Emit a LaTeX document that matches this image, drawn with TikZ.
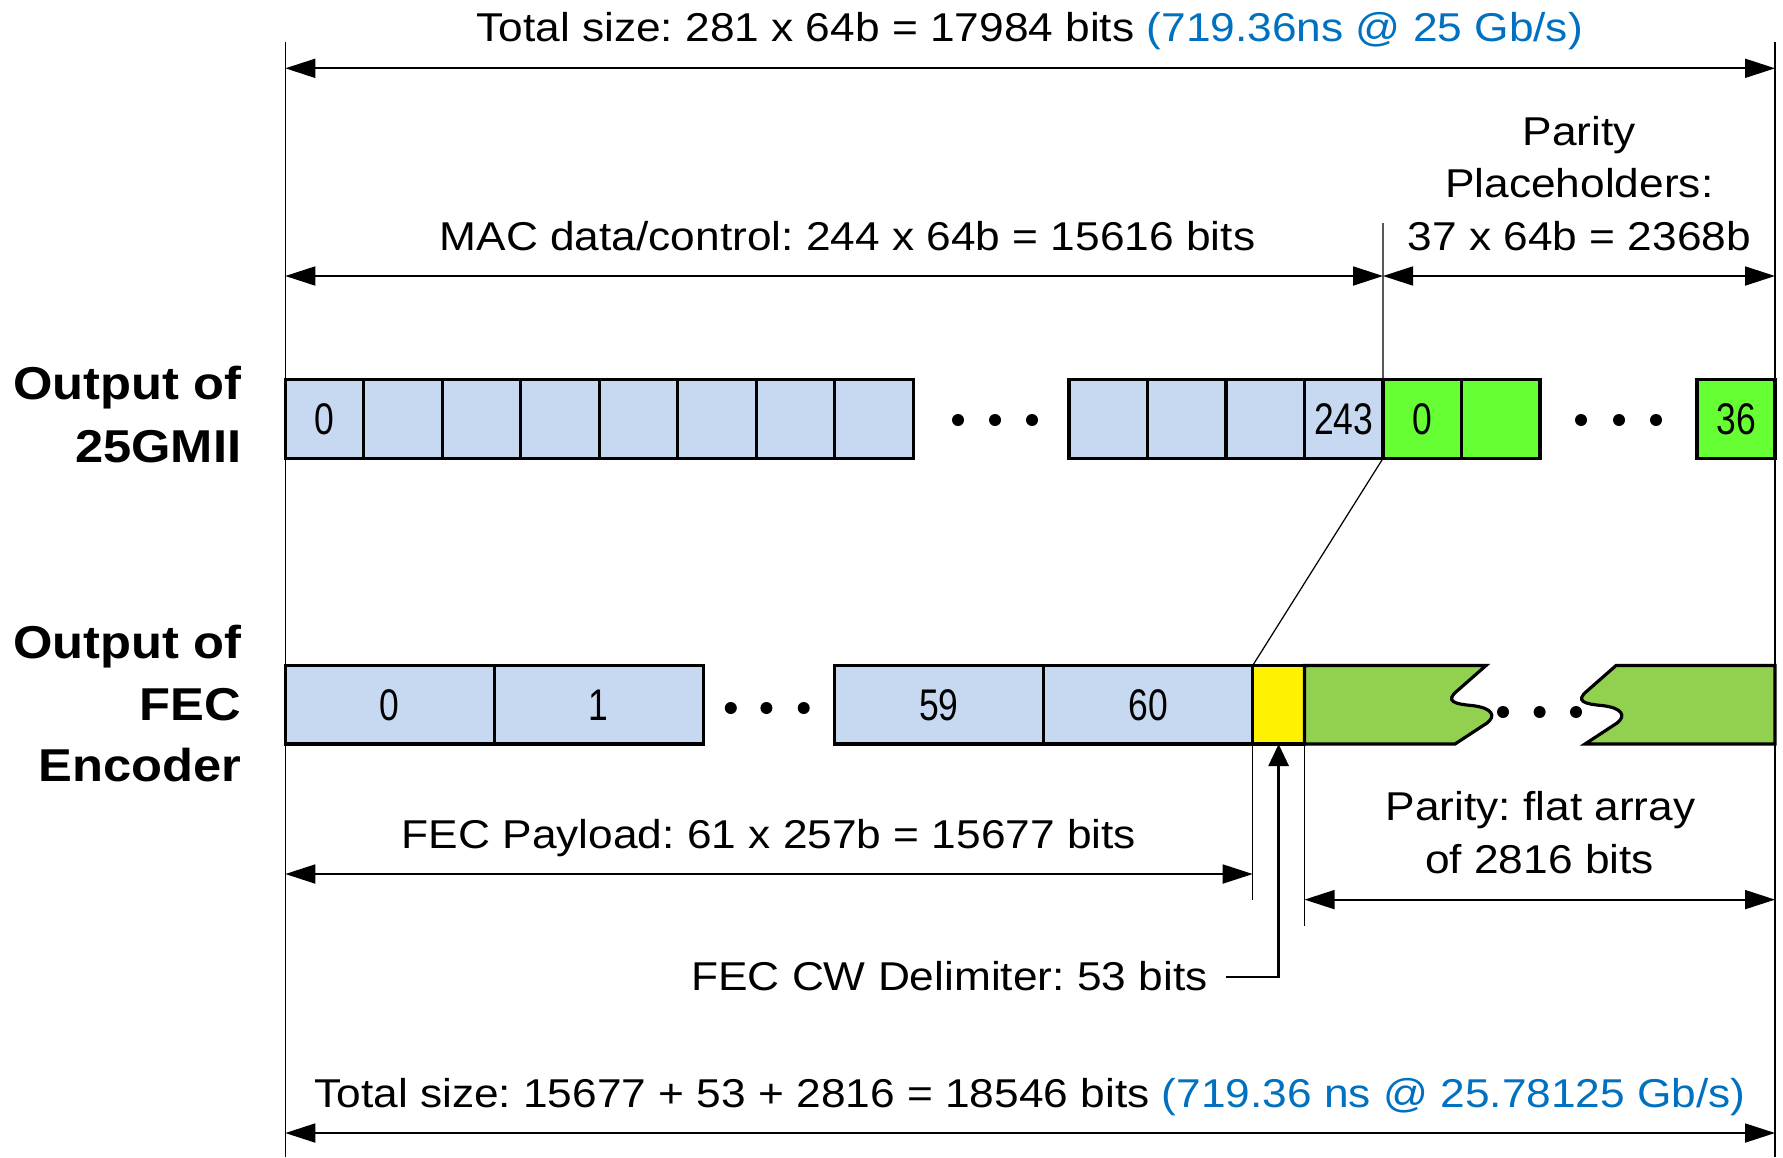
\documentclass[tikz,border=0pt]{standalone}
\usepackage{fontspec}
\setmainfont{Liberation Sans}[FakeStretch=1.1]
\newfontfamily\numfont{Liberation Sans}[FakeStretch=0.8]
\usetikzlibrary{arrows.meta}
\definecolor{lblue}{RGB}{198,217,240}
\definecolor{bgreen}{RGB}{102,255,51}
\definecolor{pgreen}{RGB}{146,208,80}
\definecolor{tblue}{RGB}{0,112,192}
\frenchspacing
\begin{document}
\begin{tikzpicture}[x=0.01cm,y=-0.01cm,
  lbl/.style={font=\fontsize{11.44}{14}\selectfont, inner sep=0pt, anchor=base},
  side/.style={font=\fontsize{13.1}{16}\selectfont\bfseries, inner sep=0pt, anchor=base east},
  cell/.style={draw, line width=0.9pt, minimum width=0.785cm, minimum height=0.785cm,
    inner sep=0pt, outer sep=0pt, font=\numfont\fontsize{12.6}{13}\selectfont},
  cellA/.style={cell, fill=lblue},
  cellG/.style={cell, fill=bgreen},
  fecbox/.style={cell, fill=lblue, minimum width=2.09cm},
  yelbox/.style={cell, fill=yellow, minimum width=0.518cm},
  dotn/.style={circle, fill=black, inner sep=0pt, minimum size=0.12cm},
  ext/.style={line width=0.35pt},
  dim/.style={line width=0.5pt, >={Triangle[length=0.3cm,width=0.19cm]}, <->},
  delarr/.style={line width=0.8pt, -{Triangle[length=0.22cm,width=0.2cm]}},
  parpiece/.style={draw, line width=0.9pt, fill=pgreen, line join=miter}
]
\useasboundingbox (0,0) rectangle (1783,1157);

% extent lines
\coordinate (L0) at (285.3,42);
\coordinate (L1) at (285.3,1157);
\coordinate (R0) at (1775,42);
\coordinate (R1) at (1775,1157);
\draw[ext] (L0) -- (L1);
\draw[ext] (R0) -- (R1);

% top texts and dimension arrows
\node[lbl] (ttop) at (1029.6,41.5) {Total size: 281 x 64b = 17984 bits \textcolor{tblue}{(719.36ns @ 25 Gb/s)}};
\coordinate (tl) at (285.3,68.3);
\coordinate (tr) at (1775,68.3);
\draw[dim] (tl) -- (tr);

\node[lbl] (mac) at (847.5,250) {MAC data/control: 244 x 64b = 15616 bits};
\node[lbl] (pp1) at (1579.3,145) {Parity};
\node[lbl] (pp2) at (1579.3,197.5) {Placeholders:};
\node[lbl] (pp3) at (1579.3,250) {37 x 64b = 2368b};
\coordinate (ml) at (285.3,276);
\coordinate (mm) at (1383,276);
\coordinate (mr) at (1775,276);
\draw[dim] (ml) -- (mm);
\draw[dim] (mm) -- (mr);

% side labels
\node[side] (o1a) at (242,399) {Output of};
\node[side] (o1b) at (242,462) {25GMII};
\node[side] (o2a) at (242,658) {Output of};
\node[side] (o2b) at (242,720.5) {FEC};
\node[side] (o2c) at (242,781.6) {Encoder};

% row 1: 25GMII
\node[cellA] (a0) at (324.65,419) {0};
\node[cellA] (a1) at (403.15,419) {};
\node[cellA] (a2) at (481.65,419) {};
\node[cellA] (a3) at (560.15,419) {};
\node[cellA] (a4) at (638.65,419) {};
\node[cellA] (a5) at (717.15,419) {};
\node[cellA] (a6) at (795.65,419) {};
\node[cellA] (a7) at (874.15,419) {};
\node[dotn] (d1) at (958,420) {};
\node[dotn] (d2) at (995,420) {};
\node[dotn] (d3) at (1032,420) {};
\node[cellA] (a8) at (1108.25,419) {};
\node[cellA] (a9) at (1186.75,419) {};
\node[cellA] (a10) at (1265.25,419) {};
\node[cellA] (a11) at (1343.75,419) {243};
\node[cellG] (g0) at (1422.25,419) {0};
\node[cellG] (g1) at (1500.75,419) {};
\node[dotn] (d4) at (1581,420) {};
\node[dotn] (d5) at (1619,420) {};
\node[dotn] (d6) at (1656,420) {};
\node[cellG, minimum width=0.78cm] (g36) at (1736,419) {36};

% row 2: FEC encoder
\node[fecbox] (f0) at (389.8,704.75) {0};
\node[fecbox] (f1) at (598.8,704.75) {1};
\node[dotn] (d7) at (730.8,708) {};
\node[dotn] (d8) at (766.4,708) {};
\node[dotn] (d9) at (803.7,708) {};
\node[fecbox] (f59) at (938.8,704.75) {59};
\node[fecbox] (f60) at (1148.2,704.75) {60};
\node[yelbox] (yel) at (1278.6,704.75) {};

% parity (flat array) pieces
\draw[parpiece] (yel.north east) -- (1486,665.5) -- (1457,691)
  .. controls (1445,701) and (1454,704) .. (1472,705.5)
  .. controls (1493,708) and (1496,716) .. (1487,723)
  -- (1455,744) -- (yel.south east) -- cycle;
\draw[parpiece] (1775,665.5) -- (1616,665.5) -- (1587,691)
  .. controls (1575,701) and (1584,704) .. (1602,705.5)
  .. controls (1623,708) and (1626,716) .. (1617,723)
  -- (1585,744) -- (1775,744) -- cycle;
\node[dotn] (d10) at (1503,712) {};
\node[dotn] (d11) at (1539.6,712) {};
\node[dotn] (d12) at (1576,712) {};

% divider and mapping line
\coordinate (dv) at (1383,223);
\draw[ext] (dv) -- (a11.north east);
\draw[ext] (a11.south east) -- (yel.north west);

% lower extension lines
\draw[ext] (yel.south west) -- ++(0,155.5);
\draw[ext] (yel.south east) -- ++(0,181.5);

% FEC payload
\node[lbl] (pay) at (769,848) {FEC Payload: 61 x 257b = 15677 bits};
\coordinate (pl) at (285.3,874);
\coordinate (pr) at (1252.7,874);
\draw[dim] (pl) -- (pr);

% parity flat array
\node[lbl] (pf1) at (1540.5,820.6) {Parity: flat array};
\node[lbl] (pf2) at (1539.5,873.8) {of 2816 bits};
\coordinate (ql) at (1304.5,899.6);
\coordinate (qr) at (1775,899.6);
\draw[dim] (ql) -- (qr);

% delimiter
\node[lbl, anchor=base east] (dtxt) at (1208.3,990) {FEC CW Delimiter: 53 bits};
\coordinate (dl) at (1225.6,977);
\draw[delarr] (dl) -| (yel.south);

% bottom total
\node[lbl] (tbot) at (1030,1107) {Total size: 15677 + 53 + 2816 = 18546 bits \textcolor{tblue}{(719.36 ns @ 25.78125 Gb/s)}};
\coordinate (bl) at (285.3,1133);
\coordinate (br) at (1775,1133);
\draw[dim] (bl) -- (br);
\end{tikzpicture}
\end{document}
